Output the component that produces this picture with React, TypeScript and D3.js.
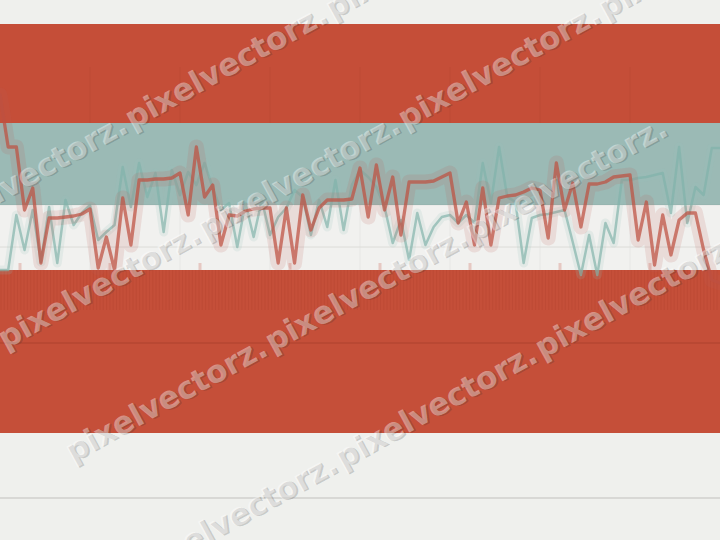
import React from "react";
import * as d3 from "d3";

const W = 720;
const H = 540;

// series values (index 0..88)
const redSeries = [205,153,153,90,112,37,82,82,83,84,86,91,32,63,30,102,55,120,120,121,121,122,127,85,153,103,115,55,85,84,89,91,92,92,37,92,37,105,70,92,100,100,100,101,132,83,135,90,123,65,118,118,118,119,123,127,77,98,55,112,55,102,104,105,108,112,110,62,137,90,117,73,116,116,118,123,124,125,60,98,35,85,45,80,87,87,50,20,17];
const tealSeries = [30,30,85,50,90,38,93,37,100,75,87,95,60,68,75,133,93,137,103,127,68,130,105,128,115,137,112,90,97,53,97,63,100,65,83,92,110,103,65,100,73,120,70,115,130,123,113,93,57,80,40,87,55,73,83,85,77,85,77,137,97,153,103,98,37,82,85,86,88,90,58,25,65,25,77,57,120,120,122,123,125,127,87,153,77,113,105,152,152];

// background bands (value ranges on the same y scale)
const bandTops = [276, 177, 95, 30];
const bandBottoms = [177, 95, 30, -133];
const bandColors = ["#c54e38", "#9bbab5", "#f1f1ef", "#c54f39"];
const gridValues = [53];
const darkLineValues = [-43];
const baseLineValues = [-198];
const watermarkIntercepts = [190, 340, 490, 645];
const watermarkPhases = [127, 0, 67, 137];
const watermarkFirst = [-1, 0, 0, 0];
const watermarkLast = [3, 3, 2, 2];
const watermarkText = "pixelvectorz.";

export default function App() {
  const n = redSeries.length;
  const x = d3.scaleLinear().domain([0, n - 1]).range([0, W]);
  const y = d3.scaleLinear().domain([0, 200]).range([300, 100]);
  const line = d3
    .line<number>()
    .x((_, i) => x(i))
    .y((v) => y(v))
    .curve(d3.curveLinear);

  const vGrid = d3.range(90, W, 90);
  const stripes = d3.range(1, W, 3.3);
  const ticks = d3.range(20, W, 90);
  const slope = 0.55;
  const angle = (-Math.atan(slope) * 180) / Math.PI;

  return (
    <div style={{ position: "fixed", left: 0, top: 0, width: W, height: H }}>
      <svg width={W} height={H} style={{ display: "block" }}>
        <rect x={0} y={0} width={W} height={H} fill="#eff0ed" />
        {bandTops.map((t, i) => (
          <rect
            key={"b" + i}
            x={0}
            y={y(t)}
            width={W}
            height={y(bandBottoms[i]) - y(t)}
            fill={bandColors[i]}
          />
        ))}
        {vGrid.map((gx) => (
          <line key={"tv" + gx} x1={gx} x2={gx} y1={67} y2={y(177)} stroke="rgba(0,0,0,0.045)" strokeWidth={1} />
        ))}
        {vGrid.map((gx) => (
          <line key={"lv" + gx} x1={gx} x2={gx} y1={y(95)} y2={y(30)} stroke="rgba(0,0,0,0.04)" strokeWidth={1} />
        ))}
        <line x1={0} x2={W} y1={y(95)} y2={y(95)} stroke="rgba(0,0,0,0.05)" strokeWidth={1} />
        {gridValues.map((g) => (
          <line key={"g" + g} x1={0} x2={W} y1={y(g)} y2={y(g)} stroke="#dcdcd8" strokeWidth={1} />
        ))}
        {ticks.map((tx) => (
          <line key={"tk" + tx} x1={tx} x2={tx} y1={y(37)} y2={y(30)} stroke="rgba(200,80,60,0.25)" strokeWidth={3} />
        ))}
        {stripes.map((sx, i) => (
          <line key={"s" + i} x1={sx} x2={sx} y1={y(30)} y2={y(-10)} stroke="rgba(110,30,15,0.08)" strokeWidth={1} />
        ))}
        {darkLineValues.map((v) => (
          <line key={"d" + v} x1={0} x2={W} y1={y(v)} y2={y(v)} stroke="#ae432f" strokeWidth={1.2} />
        ))}
        {baseLineValues.map((v) => (
          <line key={"bl" + v} x1={0} x2={W} y1={y(v)} y2={y(v)} stroke="#d0d1cd" strokeWidth={1.5} />
        ))}

        <path d={line(tealSeries) || ""} fill="none" stroke="rgba(150,190,184,0.16)" strokeWidth={9} strokeLinejoin="round" strokeLinecap="round" />
        <path d={line(tealSeries) || ""} fill="none" stroke="rgba(128,178,170,0.68)" strokeWidth={2.5} strokeLinejoin="round" />

        <path d={line(redSeries) || ""} fill="none" stroke="rgba(185,95,85,0.15)" strokeWidth={15} strokeLinejoin="round" strokeLinecap="round" />
        <path d={line(redSeries) || ""} fill="none" stroke="rgba(190,80,65,0.72)" strokeWidth={3.3} strokeLinejoin="round" strokeLinecap="round" />

        {watermarkIntercepts.map((b, li) =>
          d3.range(watermarkFirst[li], watermarkLast[li] + 1).map((k) => {
            const px = watermarkPhases[li] + k * 200;
            const py = b - slope * px;
            return (
              <g key={"w" + li + "_" + k} transform={`translate(${px},${py}) rotate(${angle})`}>
                <text
                  x={1.5}
                  y={1.5}
                  dominantBaseline="central"
                  fontFamily="DejaVu Sans"
                  fontWeight="bold"
                  fontSize={31}
                  fill="rgba(40,40,40,0.2)"
                >
                  {watermarkText}
                </text>
                <text
                  x={0}
                  y={0}
                  dominantBaseline="central"
                  fontFamily="DejaVu Sans"
                  fontWeight="bold"
                  fontSize={31}
                  fill="rgba(255,255,255,0.4)"
                >
                  {watermarkText}
                </text>
              </g>
            );
          })
        )}
      </svg>
    </div>
  );
}
